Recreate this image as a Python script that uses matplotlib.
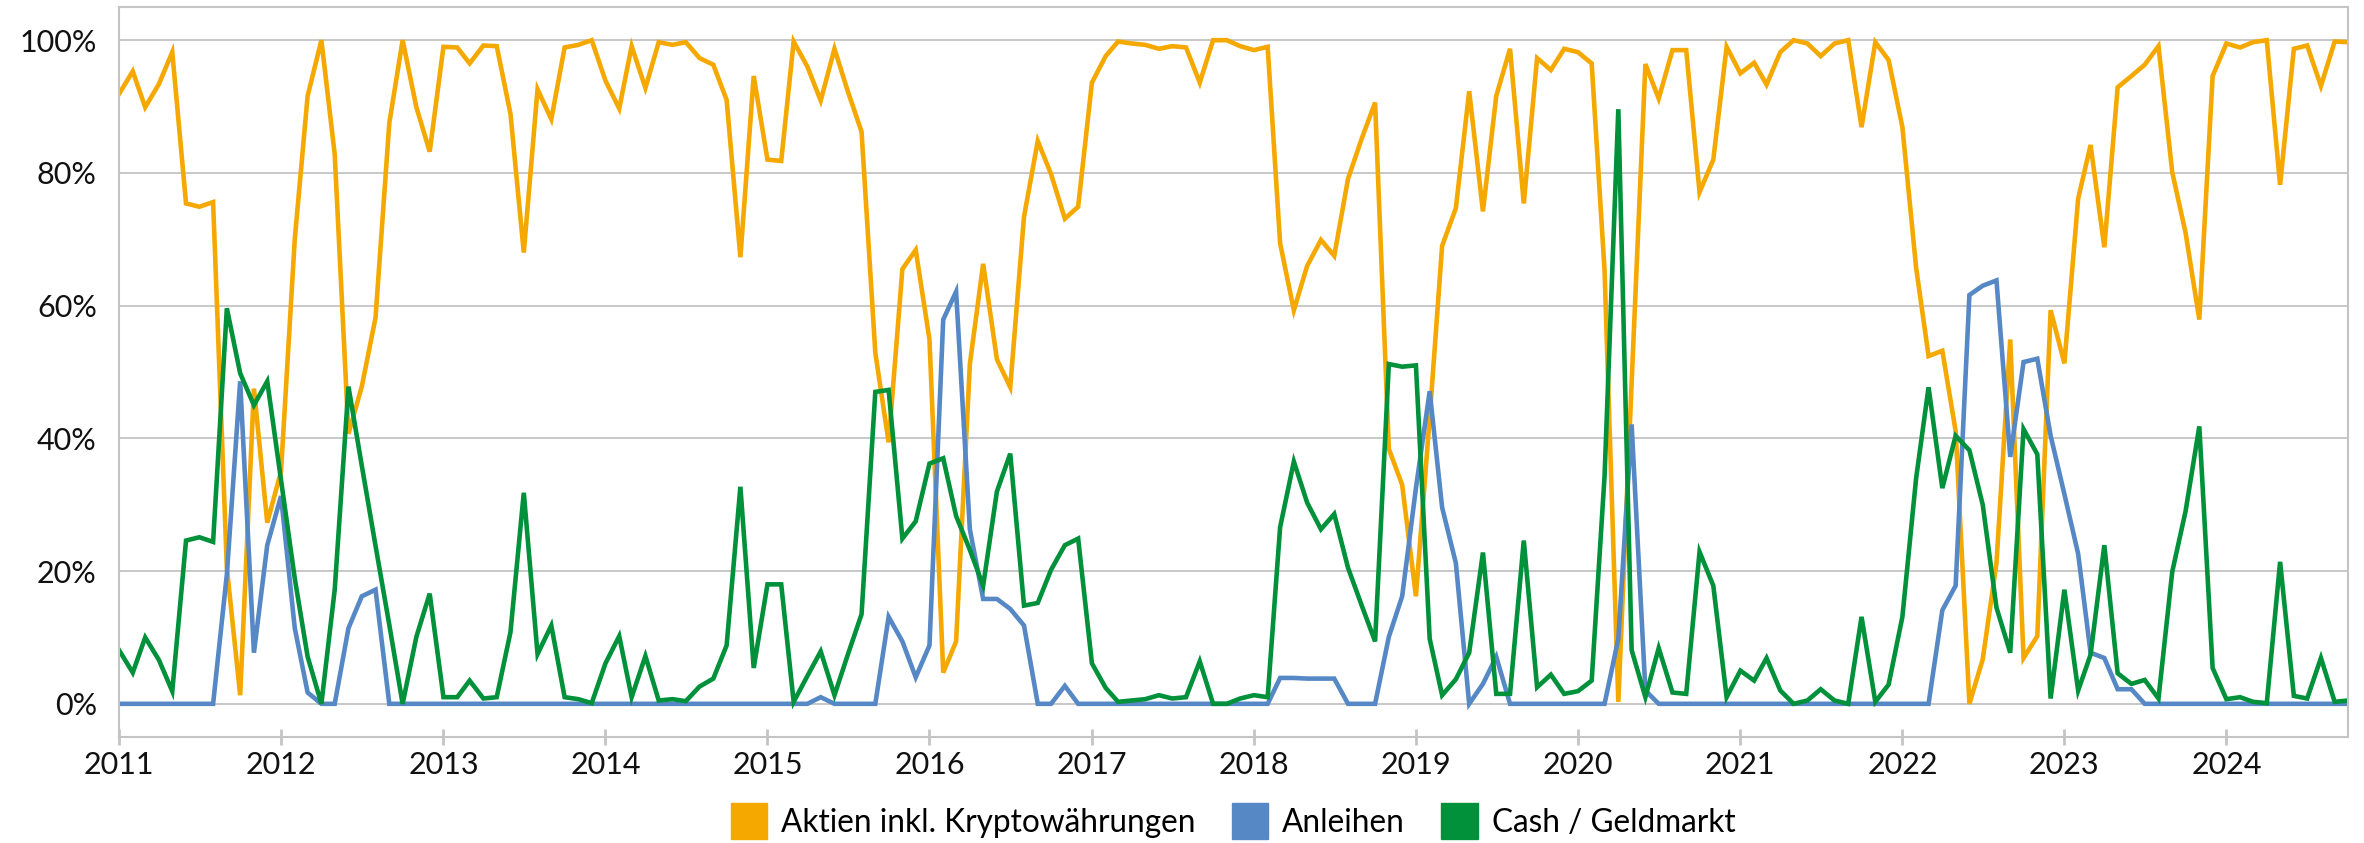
import pandas as pd
import numpy as np
import matplotlib
matplotlib.use("Agg")
import matplotlib.pyplot as plt
import matplotlib.dates as mdates
from matplotlib.patches import Patch
from matplotlib.ticker import FuncFormatter

plt.rcParams['font.family'] = ['Lato', 'DejaVu Sans']

# monthly allocation in %, Jan 2011 .. Oct 2024
aktien = [
    91.9, 95.3, 89.9, 93.4, 98.2, 75.4, 74.9, 75.6, 20.5, 1.3, 47.5, 27.3,
    35.0, 70.0, 91.6, 100, 82.8, 40.7, 47.8, 58.2, 87.5, 100, 89.9, 83.2,
    99.0, 98.9, 96.5, 99.2, 99.1, 88.9, 68.0, 92.6, 88.1, 98.9, 99.3, 100,
    93.9, 89.7, 99.1, 92.8, 99.7, 99.3, 99.7, 97.3, 96.3, 91.0, 67.3, 94.6,
    82.0, 81.8, 99.8, 96.0, 90.9, 98.7, 92.3, 86.2, 52.9, 39.4, 65.5, 68.4,
    54.9, 4.7, 9.4, 51.2, 66.3, 51.9, 47.7, 73.4, 84.8, 79.8, 73.1, 74.9,
    93.6, 97.6, 99.8, 99.5, 99.3, 98.7, 99.1, 98.9, 93.6, 100, 100, 99.1,
    98.5, 99.0, 69.4, 59.3, 66.0, 69.9, 67.5, 79.1, 85.2, 90.6, 38.4, 33.0,
    16.2, 43.1, 69.0, 74.7, 92.3, 74.2, 91.6, 98.7, 75.4, 97.3, 95.5, 98.7,
    98.2, 96.5, 65.3, 0.3, 48.4, 96.4, 91.2, 98.5, 98.5, 77.1, 82.0, 99.0,
    95.0, 96.6, 93.3, 98.2, 100, 99.5, 97.6, 99.5, 100, 86.9, 99.7, 97.0,
    86.9, 65.7, 52.4, 53.2, 41.1, 0, 6.7, 21.2, 54.9, 6.9, 10.2, 59.3,
    51.3, 76.1, 84.2, 68.8, 92.9, 94.6, 96.3, 99.1, 80.1, 71.0, 57.9, 94.6,
    99.5, 98.9, 99.7, 100, 78.2, 98.7, 99.2, 93.1, 99.8, 99.7,
]
anleihen = [
    0, 0, 0, 0, 0, 0, 0, 0, 19.5, 48.6, 7.7, 23.9,
    31.3, 11.4, 1.7, 0, 0, 11.4, 16.2, 17.2, 0, 0, 0, 0,
    0, 0, 0, 0, 0, 0, 0, 0, 0, 0, 0, 0,
    0, 0, 0, 0, 0, 0, 0, 0, 0, 0, 0, 0,
    0, 0, 0, 0, 1.0, 0, 0, 0, 0, 13.1, 9.4, 4.0,
    8.8, 57.9, 62.1, 26.3, 15.8, 15.8, 14.3, 11.8, 0, 0, 2.7, 0,
    0, 0, 0, 0, 0, 0, 0, 0, 0, 0, 0, 0,
    0, 0, 3.9, 3.9, 3.8, 3.8, 3.8, 0, 0, 0, 10.1, 16.2,
    32.5, 47.1, 29.6, 21.2, 0, 3.0, 7.1, 0, 0, 0, 0, 0,
    0, 0, 0, 9.8, 42.1, 2.0, 0, 0, 0, 0, 0, 0,
    0, 0, 0, 0, 0, 0, 0, 0, 0, 0, 0, 0,
    0, 0, 0, 14.1, 17.8, 61.6, 63.0, 63.8, 37.2, 51.5, 52.0, 40.4,
    31.6, 22.6, 7.7, 6.9, 2.2, 2.2, 0, 0, 0, 0, 0, 0,
    0, 0, 0, 0, 0, 0, 0, 0, 0, 0,
]
cash = [
    8.1, 4.7, 10.0, 6.6, 1.9, 24.6, 25.1, 24.4, 59.6, 49.8, 45.0, 48.6,
    33.7, 18.9, 7.1, 0, 17.2, 47.8, 35.9, 23.8, 11.9, 0, 10.1, 16.6,
    1.0, 1.0, 3.5, 0.8, 1.0, 10.8, 31.8, 7.5, 11.8, 1.0, 0.7, 0.1,
    6.1, 10.2, 1.0, 7.2, 0.5, 0.7, 0.4, 2.6, 3.8, 8.8, 32.7, 5.4,
    18.0, 18.0, 0.3, 4.2, 7.9, 1.3, 7.4, 13.5, 47.0, 47.3, 24.9, 27.5,
    36.2, 37.0, 28.3, 23.2, 17.8, 32.0, 37.7, 14.8, 15.2, 20.2, 23.9, 24.9,
    6.1, 2.4, 0.3, 0.5, 0.7, 1.3, 0.8, 1.0, 6.4, 0, 0, 0.8,
    1.3, 1.0, 26.6, 36.5, 30.3, 26.3, 28.6, 20.5, 14.8, 9.4, 51.2, 50.8,
    51.0, 9.8, 1.3, 3.7, 7.7, 22.8, 1.5, 1.5, 24.6, 2.5, 4.4, 1.5,
    1.9, 3.5, 34.3, 89.6, 8.1, 1.0, 8.4, 1.7, 1.5, 22.9, 17.8, 1.0,
    5.0, 3.5, 6.9, 2.0, 0, 0.5, 2.2, 0.5, 0, 13.1, 0.3, 2.9,
    13.1, 34.0, 47.7, 32.5, 40.4, 38.2, 30.0, 14.5, 7.7, 41.4, 37.6, 0.8,
    17.2, 2.0, 7.4, 23.9, 4.6, 3.0, 3.6, 0.8, 19.9, 29.0, 41.8, 5.4,
    0.7, 1.0, 0.3, 0.1, 21.4, 1.2, 0.8, 6.9, 0.3, 0.5,
]
labels = ["Aktien inkl. Kryptowährungen", "Anleihen", "Cash / Geldmarkt"]
colors = ["#f5a800", "#5588c4", "#00913a"]

dates = pd.date_range("2011-01-01", periods=len(aktien), freq="MS")
grey = "#c4c4c4"

fig = plt.figure(figsize=(23.64, 8.43), dpi=100)
ax = fig.add_axes([119 / 2364, 1 - 737 / 843, (2348 - 119) / 2364, (737 - 7) / 843])

for series, c in zip([aktien, anleihen, cash], colors):
    ax.plot(dates, series, color=c, lw=3.3, solid_joinstyle="miter")

ax.set_ylim(-5, 105)
ax.set_xlim(dates[0], dates[-1])
ax.set_yticks(np.arange(0, 101, 20))
ax.yaxis.set_major_formatter(FuncFormatter(lambda v, p: f"{v:.0f}%"))
ax.xaxis.set_major_locator(mdates.YearLocator())
ax.xaxis.set_major_formatter(mdates.DateFormatter("%Y"))
ax.grid(axis="y", color=grey, lw=1.3)
ax.set_axisbelow(True)
for s in ax.spines.values():
    s.set_color(grey)
    s.set_linewidth(1.5)
ax.tick_params(axis="x", direction="inout", length=11.5, width=2, color=grey,
               labelsize=22, pad=4, labelcolor="#111111")
ax.tick_params(axis="y", length=0, labelsize=22, pad=16, labelcolor="#111111")

handles = [Patch(color=c) for c in colors]
fig.legend(handles, labels, loc="center", bbox_to_anchor=(0.5216, 0.026), ncol=3,
           frameon=False, fontsize=22.7, handlelength=1.15, handleheight=1.4,
           handletextpad=0.45, columnspacing=1.15, borderpad=0)

fig.savefig("out.png", dpi=100)
